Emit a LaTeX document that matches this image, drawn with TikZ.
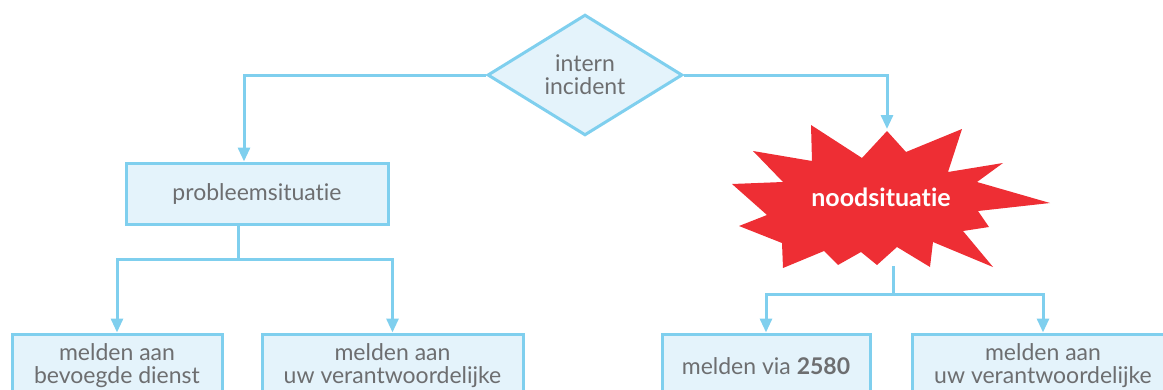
\documentclass[tikz,border=0pt]{standalone}
\usepackage{fontspec}
\setmainfont{Lato}[RawFeature={-liga;-clig;-dlig}]
\usepackage{xcolor}
\usepackage{tikz}
\usetikzlibrary{shapes.geometric, arrows.meta, positioning, calc}

\definecolor{lijnblauw}{HTML}{7FCFEE}
\definecolor{vulblauw}{HTML}{E4F3FB}
\definecolor{tekstgrijs}{HTML}{6D6E70}
\definecolor{noodrood}{HTML}{EE2E34}

\tikzset{
  doos/.style={draw=lijnblauw, fill=vulblauw, line width=3pt, text=tekstgrijs,
    align=center, inner sep=0pt, font=\fontsize{23}{26}\selectfont},
  pijl/.style={draw=lijnblauw, line width=3pt, -{Triangle[length=14pt,width=12pt]}},
  lijn/.style={draw=lijnblauw, line width=3pt}
}

\begin{document}
\begin{tikzpicture}[x=1pt,y=-1pt]
            \useasboundingbox (0,0) rectangle (1163,389);
            \clip (0,0) rectangle (1163,389);

            % beslissing bovenaan
            \node[doos, diamond, minimum width=195pt, minimum height=120pt] (incident)
              at (585,75) {intern\\[-3pt]incident};

            % linkertak
            \node[doos, minimum width=262pt, minimum height=61pt] (probleem)
              at (257,193.5) {probleemsituatie};
            \node[doos, minimum width=210pt, minimum height=64pt] (dienst)
              at (117,366) {melden aan\\[-3pt]bevoegde dienst};
            \node[doos, minimum width=261pt, minimum height=64pt] (verantw1)
              at (392.5,366) {melden aan\\[-3pt]uw verantwoordelijke};

            % rechtertak
            \fill[noodrood] (887,131) -- (906,152) -- (962,129) -- (948,172)
              -- (1003,163) -- (977,182) -- (1050,203) -- (978,211) -- (989,227)
              -- (963,231) -- (993,267) -- (933,242) -- (930,267) -- (897,247)
              -- (877,265) -- (861,252) -- (838,265) -- (824,251) -- (783,268)
              -- (782,243) -- (739,226) -- (767,215) -- (732,184) -- (783,182)
              -- (753,151) -- (812,161) -- (811,125) -- (862,158) -- cycle;
            \node[text=white, font=\fontsize{25}{28}\selectfont\bfseries] (nood)
              at (881,197) {noodsituatie};
            \coordinate (noodtop) at (887,129);
            \coordinate (noodbodem) at (893,266);

            \node[doos, minimum width=208pt, minimum height=64pt] (via)
              at (766,366) {melden via \textbf{2580}};
            \node[doos, minimum width=261pt, minimum height=64pt] (verantw2)
              at (1043,366) {melden aan\\[-3pt]uw verantwoordelijke};

            % verbindingen
            \draw[pijl] (incident.west) -| ([xshift=-13pt]probleem.north);
            \draw[pijl] (incident.east) -| (noodtop);

            \draw[lijn] ([xshift=-19pt]probleem.south) -- ++(0,34) coordinate (splits1);
            \draw[pijl] (splits1) -| (dienst.north);
            \draw[pijl] (splits1) -| (verantw1.north);

            \draw[lijn] (noodbodem) -- ++(0,28) coordinate (splits2);
            \draw[pijl] (splits2) -| (via.north);
            \draw[pijl] (splits2) -| (verantw2.north);
          \end{tikzpicture}
\end{document}
